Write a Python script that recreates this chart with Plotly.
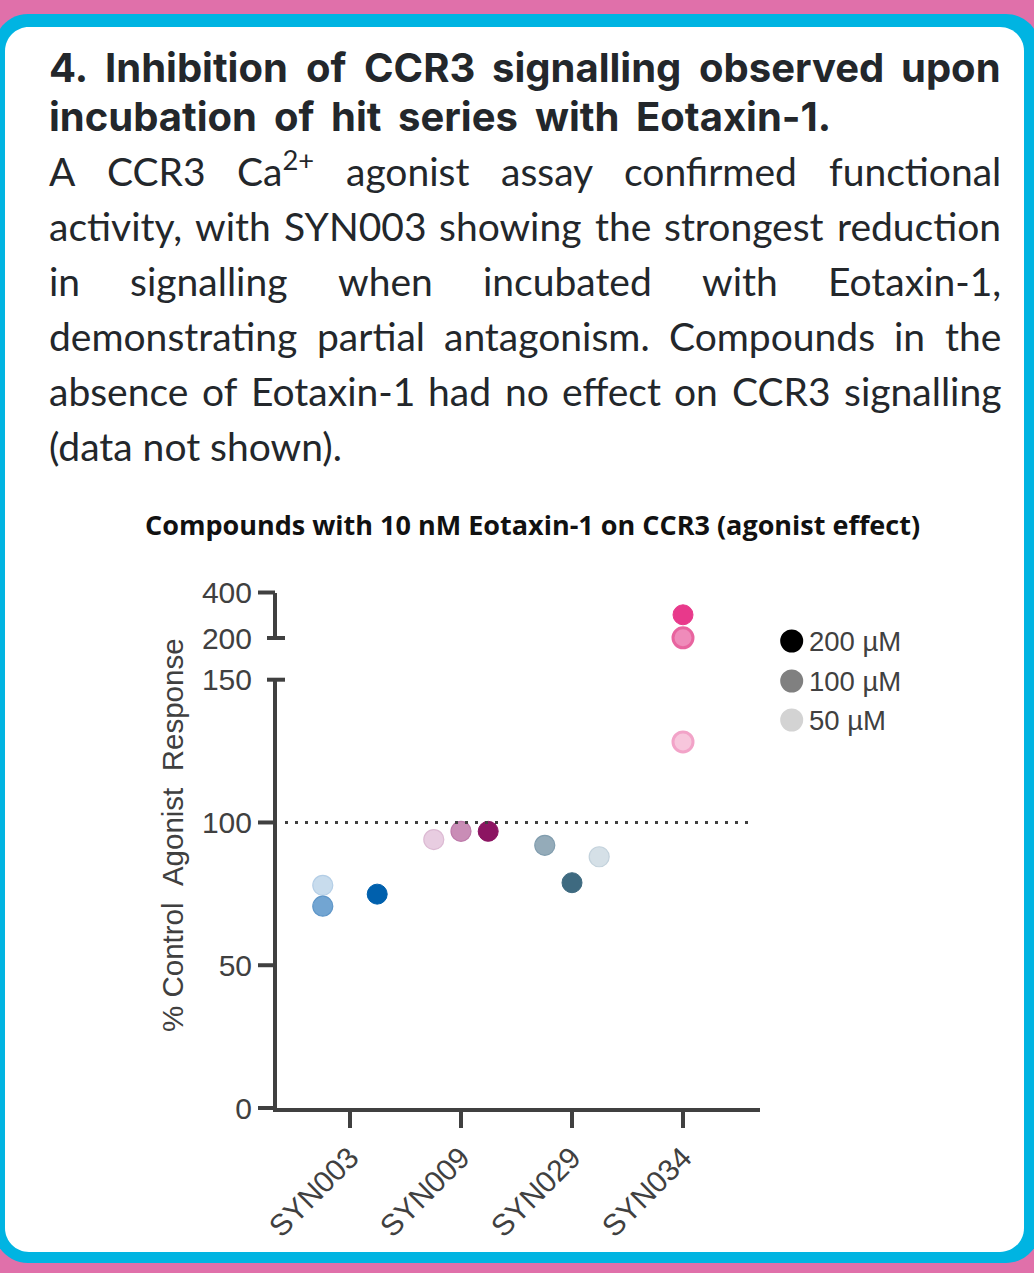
import plotly.graph_objects as go

W, H = 1034, 1273

# ---------------- data ----------------
compounds = ["SYN003", "SYN009", "SYN029", "SYN034"]
conc_labels = ["200 µM", "100 µM", "50 µM"]
# % control agonist response, one value per compound
resp_200 = [74.9, 96.9, 78.9, 302.0]
resp_100 = [70.7, 96.9, 92.0, 201.0]
resp_50 = [78.0, 94.0, 88.0, 128.2]
# horizontal scatter of replicate dots within each category (category units)
jit_200 = [0.245, 0.245, 0.0, 0.0]
jit_100 = [-0.245, 0.0, -0.245, 0.0]
jit_50 = [-0.245, -0.245, 0.245, 0.0]

# colours per compound
col_200 = ["#0060ad", "#8c1562", "#3e6a80", "#e8398b"]
col_100 = ["#72a5d2", "#c98db6", "#94abb9", "#ef8bba"]
col_50 = ["#c8dced", "#e8cde1", "#d5e0e7", "#f7c6dc"]
edge_200 = ["#0060ad", "#8c1562", "#3e6a80", "#e8398b"]
edge_100 = ["#5e96c8", "#bd7aa9", "#819dae", "#e8649f"]
edge_50 = ["#b4cee6", "#dcbad3", "#c3d2dc", "#f2a3c8"]
edgew_200 = [1, 1, 1, 1]
edgew_100 = [1.2, 1.2, 1.2, 3]
edgew_50 = [1.2, 1.2, 1.2, 3]

legend_colors = ["#000000", "#808080", "#d3d3d3"]

lower_range = [0, 150]
upper_range = [200, 400]
lower_ticks = [0, 50, 100, 150]
upper_ticks = [200, 400]
reference_level = 100

# text: words per line with approximate left edges (fallback), and right edge of the line
title_lines = [
    ([("4.", 48), ("Inhibition", 100), ("of", 310), ("CCR3", 367),
      ("signalling", 490), ("observed", 698), ("upon", None)], 1000),
    ([("incubation", 48), ("of", 260), ("hit", 318), ("series", 384),
      ("with", 520), ("Eotaxin-1.", None)], 830),
]
para_lines = [
    ([("A", 48), ("CCR3", 108), ("Ca<sup>2+</sup>", 237), ("agonist", 357),
      ("assay", 508), ("confirmed", 627), ("functional", None)], 1000),
    ([("activity,", 48), ("with", 184), ("SYN003", 272), ("showing", 435),
      ("the", 593), ("strongest", 660), ("reduction", None)], 1000),
    ([("in", 48), ("signalling", 130), ("when", 332), ("incubated", 480),
      ("with", 698), ("Eotaxin-1,", None)], 1000),
    ([("demonstrating", 48), ("partial", 313), ("antagonism.", 452),
      ("Compounds", 673), ("in", 892), ("the", None)], 1000),
    ([("absence", 48), ("of", 207), ("Eotaxin-1", 252), ("had", 424),
      ("no", 500), ("effect", 553), ("on", 667), ("CCR3", 725),
      ("signalling", None)], 1000),
    ([("(data not shown).", 48)], None),
]
chart_title = "Compounds with 10 nM Eotaxin-1 on CCR3 (agonist effect)"
y_title = "% Control \u00a0Agonist \u00a0Response"

# ---------------- geometry helpers (pixel -> paper) ----------------
def PX(x):
    return x / W

def PY(y):
    return 1 - y / H

TEXT_L = 48
X_LEFT, X_RIGHT = 277, 760          # x-axis domain in px
CAT0_PX, CAT_STEP = 350, 111        # first category centre, spacing (px)
LOW_BOT, LOW_TOP = 1108, 679.7      # lower y segment domain (px)
UP_BOT, UP_TOP = 638, 592.5         # upper y segment domain (px)
AXIS_X = 275                        # y-axis line centre

x_range = [(X_LEFT - CAT0_PX) / CAT_STEP, (X_RIGHT - CAT0_PX) / CAT_STEP]
low_dom = [PY(LOW_BOT), PY(LOW_TOP)]
up_dom = [PY(UP_BOT), PY(UP_TOP)]


def val_to_paper(v):
    if v <= lower_range[1]:
        d, r = low_dom, lower_range
    else:
        d, r = up_dom, upper_range
    return d[0] + (v - r[0]) / (r[1] - r[0]) * (d[1] - d[0])


def rrect(x0, y0, x1, y1, r):
    k = 0.5523 * r
    pts = [
        ("M", [(x0 + r, y0)]), ("L", [(x1 - r, y0)]),
        ("C", [(x1 - r + k, y0), (x1, y0 + r - k), (x1, y0 + r)]),
        ("L", [(x1, y1 - r)]),
        ("C", [(x1, y1 - r + k), (x1 - r + k, y1), (x1 - r, y1)]),
        ("L", [(x0 + r, y1)]),
        ("C", [(x0 + r - k, y1), (x0, y1 - r + k), (x0, y1 - r)]),
        ("L", [(x0, y0 + r)]),
        ("C", [(x0, y0 + r - k), (x0 + r - k, y0), (x0 + r, y0)]),
    ]
    s = ""
    for cmd, ps in pts:
        s += cmd + " ".join(f"{PX(a):.5f},{PY(b):.5f}" for a, b in ps) + " "
    return s + "Z"


AX_COL = "#404040"
TXT_COL = "#23272b"
fig = go.Figure()

# ---------------- data traces ----------------
series = [
    (conc_labels[0], resp_200, jit_200, col_200, edge_200, edgew_200),
    (conc_labels[1], resp_100, jit_100, col_100, edge_100, edgew_100),
    (conc_labels[2], resp_50, jit_50, col_50, edge_50, edgew_50),
]
for name, vals, jit, cols, edges, ew in reversed(series):
    for axis_name, test in (("y", lambda v: v <= lower_range[1]),
                            ("y2", lambda v: v > lower_range[1])):
        idx = [i for i, v in enumerate(vals) if test(v)]
        if not idx:
            continue
        fig.add_trace(go.Scatter(
            x=[i + jit[i] for i in idx],
            y=[vals[i] for i in idx],
            xaxis="x", yaxis=axis_name,
            mode="markers", name=name, showlegend=False,
            cliponaxis=False,
            marker=dict(size=20, color=[cols[i] for i in idx],
                        line=dict(color=[edges[i] for i in idx],
                                  width=[ew[i] for i in idx])),
            hovertemplate="%{y}<extra>" + name + "</extra>",
        ))

tickfont = dict(family="Liberation Sans, Arial", size=30, color=AX_COL)
fig.update_layout(
    width=W, height=H, autosize=False,
    margin=dict(l=0, r=0, t=0, b=0, pad=0),
    paper_bgcolor="#e070aa", plot_bgcolor="rgba(0,0,0,0)",
    showlegend=False,
    xaxis=dict(domain=[PX(X_LEFT), PX(X_RIGHT)], range=x_range,
               anchor="y", tickmode="array", tickvals=list(range(len(compounds))),
               ticktext=compounds, tickangle=-45, ticks="outside", ticklen=16,
               tickwidth=4, tickcolor=AX_COL, showline=True, linewidth=4,
               linecolor=AX_COL, showgrid=False, zeroline=False,
               tickfont=tickfont, automargin=False),
    yaxis=dict(domain=low_dom, range=lower_range, anchor="x",
               tickmode="array", tickvals=lower_ticks, ticks="outside",
               ticklen=15, tickwidth=4, tickcolor="rgba(0,0,0,0)",
               showline=True, linewidth=4, linecolor=AX_COL,
               showgrid=False, zeroline=False, tickfont=tickfont, automargin=False),
    yaxis2=dict(domain=up_dom, range=upper_range, anchor="x",
                tickmode="array", tickvals=upper_ticks, ticks="outside",
                ticklen=15, tickwidth=4, tickcolor="rgba(0,0,0,0)",
                showline=True, linewidth=4, linecolor=AX_COL,
                showgrid=False, zeroline=False, tickfont=tickfont, automargin=False),
)

shapes = []
# background card
shapes.append(dict(type="path", xref="paper", yref="paper", layer="below",
                   path=rrect(-6, 14, 1040, 1263, 34),
                   fillcolor="#00b4e2", line=dict(width=0)))
shapes.append(dict(type="path", xref="paper", yref="paper", layer="below",
                   path=rrect(5, 27, 1024, 1252, 24),
                   fillcolor="#ffffff", line=dict(width=0)))

# y-axis ticks and break caps
for v in [0, 50, 100, 400]:
    shapes.append(dict(type="line", xref="paper", yref="paper",
                       x0=PX(258), x1=PX(AXIS_X), y0=val_to_paper(v), y1=val_to_paper(v),
                       line=dict(color=AX_COL, width=4)))
for v in [lower_range[1], upper_range[0]]:
    shapes.append(dict(type="line", xref="paper", yref="paper",
                       x0=PX(267), x1=PX(285), y0=val_to_paper(v), y1=val_to_paper(v),
                       line=dict(color=AX_COL, width=4)))

# reference (100 %) dotted line
shapes.append(dict(type="line", xref="paper", yref="paper",
                   x0=PX(285), x1=PX(752),
                   y0=val_to_paper(reference_level), y1=val_to_paper(reference_level),
                   line=dict(color=AX_COL, width=3, dash="3px,7px")))

# legend markers
leg_y = [641, 681, 720]
for c, ly in zip(legend_colors, leg_y):
    shapes.append(dict(type="circle", xref="paper", yref="paper",
                       x0=PX(791.7 - 11.5), x1=PX(791.7 + 11.5),
                       y0=PY(ly + 11.5), y1=PY(ly - 11.5),
                       fillcolor=c, line=dict(width=0)))

annotations = []
# legend labels
for lab, ly in zip(conc_labels, leg_y):
    annotations.append(dict(text=lab, xref="paper", yref="paper",
                            x=PX(808), y=PY(ly), xanchor="left", yanchor="middle",
                            showarrow=False, borderpad=0,
                            font=dict(family="Liberation Sans, Arial", size=27.5, color=AX_COL)))

# y-axis title
annotations.append(dict(text=y_title, xref="paper", yref="paper",
                        x=PX(172), y=PY(835), textangle=-90,
                        xanchor="center", yanchor="middle", showarrow=False,
                        font=dict(family="Liberation Sans, Arial", size=29.5, color=AX_COL)))

# chart title
annotations.append(dict(text="<b>" + chart_title + "</b>", xref="paper", yref="paper",
                        x=PX(532), y=PY(536 + 0.293 * 27), xanchor="center", yanchor="bottom",
                        showarrow=False, borderpad=0,
                        font=dict(family="Open Sans", size=27, color="#111111")))


def add_line(words, right, baseline, bold, key):
    fam = "Inter" if bold else "Lato"
    fs = 40 if bold else 39
    desc = (0.242 if bold else 0.213) * fs
    justified = right is not None and len(words) > 1
    for k, (w, left) in enumerate(words):
        txt = "<b>" + w + "</b>" if bold else w
        annotations.append(dict(
            text=txt, xref="paper", yref="paper",
            name=(f"just|{key}|{k}|{right}" if justified else ""),
            x=PX(right if left is None else left),
            xanchor="right" if left is None else "left",
            y=PY(baseline + desc), yanchor="bottom",
            showarrow=False, borderpad=0,
            font=dict(family=fam, size=fs, color=TXT_COL)))


for i, (ln, right) in enumerate(title_lines):
    add_line(ln, right, [83, 132.5][i], True, f"t{i}")
for i, (ln, right) in enumerate(para_lines):
    add_line(ln, right, 187 + 55 * i, False, f"p{i}")

fig.update_layout(shapes=shapes, annotations=annotations)

# full-justify the text lines (like the source's justified text block)
justify_js = """
document.body.style.margin='0';document.body.style.padding='0';
document.documentElement.style.overflow='hidden';
var gd = document.getElementById('{plot_id}');
try {
  var L = %f, PW = %f;
  var groups = {};
  gd.querySelectorAll('g.annotation').forEach(function(g){
    var i = +g.getAttribute('data-index');
    var a = gd.layout.annotations[i];
    if(!a || !a.name || a.name.indexOf('just|') !== 0) return;
    var p = a.name.split('|');
    var t = g.querySelector('.annotation-text');
    var w = t.getBBox().width;
    (groups[p[1]] = groups[p[1]] || []).push({i: i, k: +p[2], w: w, r: +p[3]});
  });
  var upd = {};
  Object.keys(groups).forEach(function(key){
    var g = groups[key].sort(function(a, b){ return a.k - b.k; });
    var tot = 0; g.forEach(function(o){ tot += o.w; });
    var R = g[0].r;
    var gap = (R - L - tot) / (g.length - 1);
    var x = L;
    g.forEach(function(o){
      upd['annotations[' + o.i + '].x'] = x / PW;
      upd['annotations[' + o.i + '].xanchor'] = 'left';
      x += o.w + gap;
    });
  });
  Plotly.relayout(gd, upd);
} catch(e) {}
""" % (TEXT_L, W)

fig.write_html("out.html", config={"responsive": False, "displayModeBar": False},
               post_script=justify_js)
